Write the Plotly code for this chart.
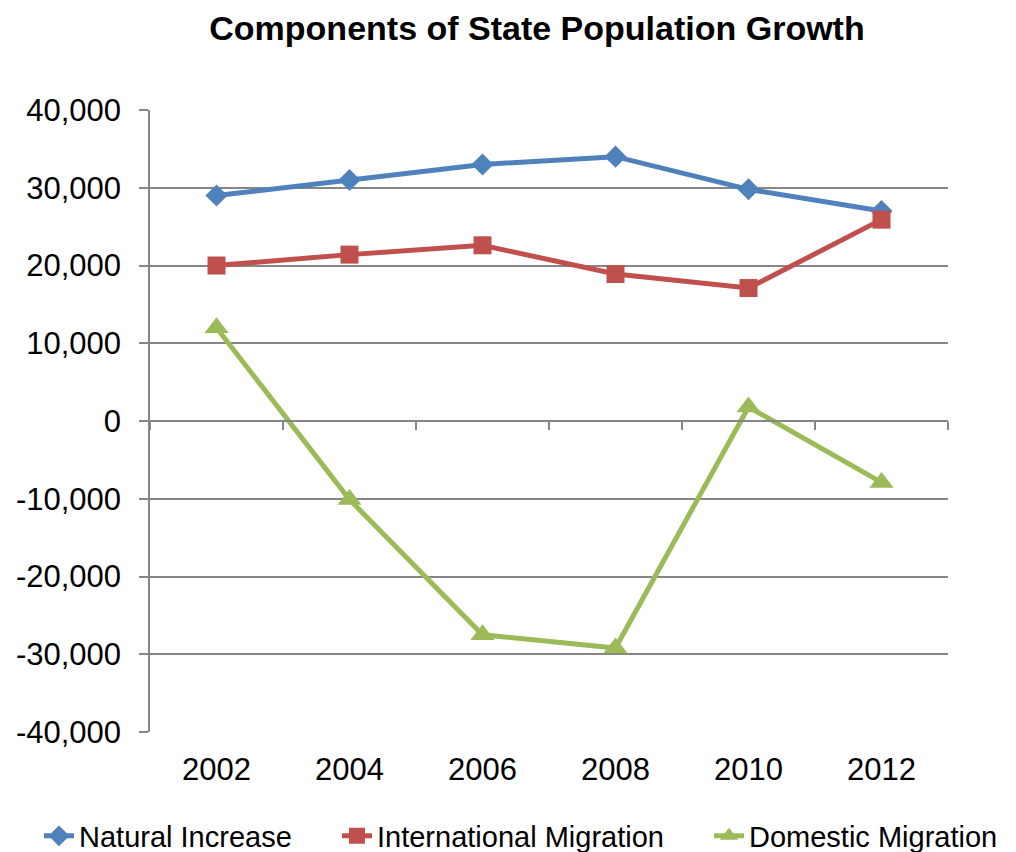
import plotly.graph_objects as go

years = ["2002", "2004", "2006", "2008", "2010", "2012"]
natural_increase = [29000, 31000, 33000, 34000, 29800, 27000]
international_migration = [20000, 21400, 22600, 18900, 17100, 25900]
domestic_migration = [12000, -10100, -27500, -29200, 1800, -7900]

y_ticks = [-40000, -30000, -20000, -10000, 0, 10000, 20000, 30000, 40000]
y_tick_labels = ["-40,000", "-30,000", "-20,000", "-10,000", "0", "10,000", "20,000", "30,000", "40,000"]

axis_grey = "#868686"
font_family = "Liberation Sans, Arial, sans-serif"

# page body has an 8px margin, so the figure is 8px smaller than the window
W, H = 1008, 844

fig = go.Figure()
fig.add_trace(go.Scatter(x=years, y=natural_increase, name="Natural Increase", mode="lines+markers",
                         line=dict(color="#4F81BD", width=5),
                         marker=dict(symbol="diamond", size=17, color="#4F81BD"), legend="legend"))
fig.add_trace(go.Scatter(x=years, y=international_migration, name="International Migration",
                         mode="lines+markers", line=dict(color="#C0504D", width=5),
                         marker=dict(symbol="square", size=18, color="#C0504D"), legend="legend2"))
# on the overlaid x2 axis (matches x) so the mid-plot category axis gets drawn
fig.add_trace(go.Scatter(x=years, y=domestic_migration, name="Domestic Migration", mode="lines+markers",
                         line=dict(color="#9BBB59", width=5), xaxis="x2",
                         marker=dict(symbol="triangle-up", size=21, color="#9BBB59"), legend="legend3"))


def legend_at(text_left):
    return dict(orientation="h", xref="container", x=(text_left - 41) / W, xanchor="left",
                yref="container", y=1 - 828 / H, yanchor="middle",
                font=dict(size=29), bgcolor="rgba(0,0,0,0)")


fig.update_layout(
    width=W, height=H,
    margin=dict(l=142, r=68, t=102, b=120),
    paper_bgcolor="white", plot_bgcolor="white",
    font=dict(family=font_family, color="black"),
    title=dict(text="<b>Components of State Population Growth</b>", font=dict(size=34),
               xref="container", x=529 / W, xanchor="center",
               yref="container", y=1 - 20 / H, yanchor="middle"),
    xaxis=dict(type="category", categoryorder="array", categoryarray=years, range=[-0.5, 5.5],
               showgrid=False, showline=False, ticks="", tickfont=dict(size=31), ticklabelstandoff=16,
               automargin=False),
    # category axis drawn across y = 0 (middle of the plot), ticks between categories
    xaxis2=dict(overlaying="x", matches="x", anchor="free", position=0.5, type="category",
                categoryorder="array", categoryarray=years, showgrid=False, showline=True,
                linecolor=axis_grey, linewidth=1.5, ticks="outside", ticklen=8, tickwidth=1.5,
                tickcolor=axis_grey, tickson="boundaries", showticklabels=False, automargin=False),
    yaxis=dict(range=[-40000, 40000], tickvals=y_ticks, ticktext=y_tick_labels, showgrid=True,
               gridcolor=axis_grey, gridwidth=1.5, zeroline=False, showline=True,
               linecolor=axis_grey, linewidth=1.5, ticks="outside", ticklen=9, tickwidth=1.5,
               tickcolor=axis_grey, tickfont=dict(size=31), ticklabelstandoff=12, automargin=False),
    legend=legend_at(72),
    legend2=legend_at(370),
    legend3=legend_at(742),
    showlegend=True,
)

fig.write_html("out.html")
